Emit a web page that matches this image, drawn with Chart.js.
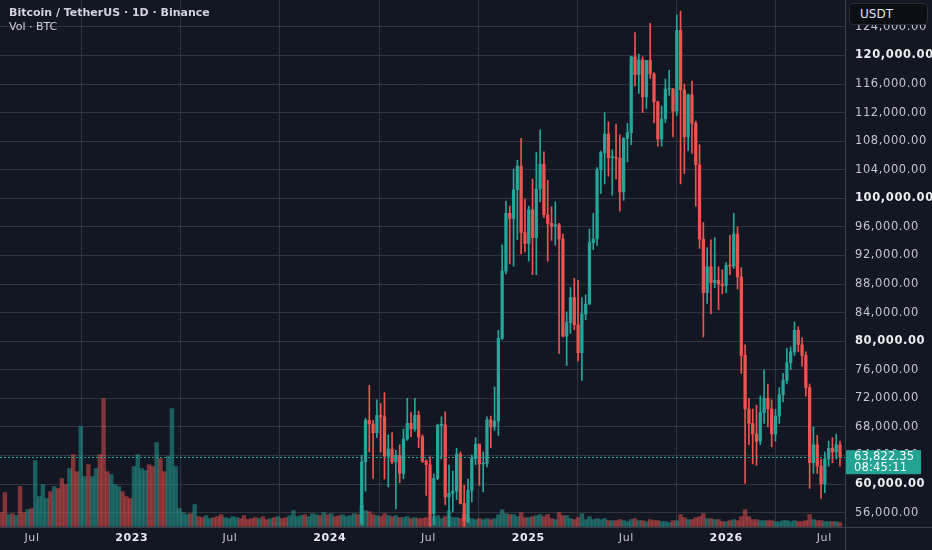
<!DOCTYPE html>
<html><head><meta charset="utf-8">
<script src="https://cdn.jsdelivr.net/npm/chart.js@4.4.1/dist/chart.umd.min.js"></script>
<style>
html,body{margin:0;padding:0;background:#131722;}
#wrap{position:relative;width:932px;height:550px;overflow:hidden;background:#131722;}
#c{position:absolute;left:0;top:0;}
#title{position:absolute;left:9px;top:6px;font:bold 11px 'DejaVu Sans';color:#d1d4dc;white-space:nowrap;}
#sub{position:absolute;left:9px;top:20px;font:11px 'DejaVu Sans';color:#d1d4dc;white-space:nowrap;}
#unit{position:absolute;left:849px;top:3px;width:77px;height:20px;border:1px solid #2a2e39;border-radius:4px;background:#0c0e14;color:#e0e3eb;font:12px 'DejaVu Sans';line-height:20px;}
#unit span{margin-left:10px;}
</style></head>
<body><div id="wrap"><canvas id="c" width="932" height="550"></canvas>
<div id="title">Bitcoin / TetherUS · 1D · Binance</div>
<div id="sub">Vol · BTC</div>
<div id="unit"><span>USDT</span></div>
</div>
<script>
// ---- data (weekly samples) ----
const axisOrigin = '2022-07-01';
const firstWeek = '2022-05-02';      // Monday of first volume week
const candleStartWeek = 95;          // week index of first price candle (2024-02-26)

const timeTicks = ['2022-07-01','2023-01-01','2023-07-01','2024-01-01','2024-07-01','2025-01-01','2025-07-01','2026-01-01','2026-07-01'];
const timeLabels = ['Jul','2023','Jul','2024','Jul','2025','Jul','2026','Jul'];
const priceTicks = [56000,60000,64000,68000,72000,76000,80000,84000,88000,92000,96000,100000,104000,108000,112000,116000,120000,124000];

// volume, thousand BTC per day (weekly samples)
const volumeK = [
42,102,36,39,33,120,42,51,54,198,90,126,84,105,120,114,144,126,174,216,165,300,150,186,150,174,216,384,165,156,126,120,105,90,84,180,216,174,168,186,180,252,204,165,210,354,180,54,42,36,39,66,
30,27,33,24,27,30,36,27,24,30,27,24,33,21,24,27,24,30,21,24,27,30,24,27,33,
48,
30,33,36,30,39,36,33,42,36,39,30,33,36,30,33,39,36,
63,
48,45,36,33,30,39,33,30,33,27,27,30,24,27,24,24,27,
42,30,33,24,30,48,27,27,24,36,27,24,21,24,21,24,21,24,
36,51,39,36,36,30,42,27,27,30,33,36,30,36,24,21,42,33,33,24,
21,27,39,21,30,21,24,21,24,18,18,18,21,18,15,21,24,18,18,15,
21,18,18,15,15,12,18,18,36,27,21,21,27,30,39,24,24,21,21,15,
15,18,21,18,30,51,30,21,21,18,18,18,18,15,15,18,18,15,18,15,
15,18,36,21,18,18,15,15,15,15,12];

// direction of volume weeks before price candles start (1 = up, 0 = down)
const volumeUpPre = [
0,0,1,0,1, 0,0,1,0, 1,1,1,1, 0,1,0,0,0, 1,0,0,1, 1,0,1,1,0, 0,0,1,1, 1,0,0,0,
1,1,1,1,0, 0,1,0,0, 1,1,1,1, 1,1,0,1, 0,0,1,1,0, 0,0,1,1, 1,1,0,0,0, 0,0,1,0, 0,1,0,1, 0,0,1,1,1, 1,0,1,1, 1,0,1,0,
1,0,0,1,1,1,1,0];

const opens = [54500,63100,68900,68400,67200,69600,69400,63900,64900,63100,64000,61500,66300,68500,67700,69600,66600,63200,62700,55900,60800,68200,68300,58200,58700,59000,64200,57300,54800,59100,63600,65600,62800,62900,69000,68000,68800,80400,89800,97900,97200,101200,104500,95200,93700,98400,94500,101300,104800,97700,96500,96100,96300,94300,80700,82600,86100,82300,78400,83800,85200,93800,94300,104000,106400,109000,105700,105700,105600,100900,108400,109200,119800,117300,119400,114200,119300,117400,113500,108300,111100,115300,115300,112200,123500,115200,108600,114500,110500,104700,94300,86800,90400,88200,88500,88000,87800,90600,90500,95000,89000,78000,70500,68500,67000,66000,70000,72000,70500,67000,69500,72500,74500,77000,78500,81500,79500,78000,73500,63000,65500,62500,60000,63500,65000,64500,65500];
const highs = [64000,69200,73800,68900,71800,71300,72800,66900,67200,64700,65500,67700,72000,70000,72000,70200,66900,63400,63800,61400,68400,69400,70100,62700,61800,65000,64500,59800,60700,64100,66500,65600,64500,69400,69500,73600,81500,93500,99600,98900,104100,105300,108400,99900,98900,102700,106400,109600,106500,102500,98800,99500,96500,95000,84100,87500,88800,88500,86100,86500,95700,97900,104300,106600,112000,110700,106800,110400,108900,108500,110500,119900,123200,120200,119800,119300,124500,117600,113600,112900,116700,117900,115400,125700,126200,116000,114600,116400,110800,107500,96600,93100,94200,94500,90400,90000,91000,94800,97900,96000,90300,79500,72000,70500,71000,72300,76000,74000,71800,70500,73500,75500,79000,79200,82700,82000,80500,78500,74000,68000,66800,63500,64500,66000,66500,67000,66000];
const lows = [54200,59000,64500,60800,66500,64500,60700,59600,62800,56500,60200,60700,66100,66600,67400,65100,63000,58400,53500,54300,60600,63500,57100,49000,56100,57800,57200,52500,54600,57500,62700,59800,58900,62400,65100,67500,66800,80200,89400,90800,90500,94200,92200,92500,91200,89300,89300,99500,97300,91200,94100,93400,78300,80600,76600,81100,81600,77200,74500,83000,85100,92800,93400,100700,102000,103100,100400,102700,98200,99700,105100,107500,115700,114700,112000,112600,116800,110600,107300,107300,110600,114400,108600,111600,102000,103500,106700,106300,98900,93000,80600,85300,83800,87500,84400,86600,86800,89300,90200,87300,75500,60100,65500,62800,62600,65500,68500,68000,65200,66000,68500,71500,74000,76000,78000,78500,76500,72300,59400,61500,61500,58000,58800,62500,63000,63500,62500];
const closes = [63100,68900,68400,67200,69600,69400,63900,64900,63100,64000,61500,66300,68500,67700,69600,66600,63200,62700,55900,60800,68200,68300,58200,58700,59000,64200,57300,54800,59100,63600,65600,62800,62900,69000,68000,68800,80400,89800,97900,97200,101200,104500,95200,93700,98400,94500,101300,104800,97700,96500,96100,96300,94300,80700,82600,86100,82300,78400,83800,85200,93800,94300,104000,106400,109000,105700,105700,105600,100900,108400,109200,119800,117300,119400,114200,119300,117400,113500,108300,111100,115300,115300,112200,123500,115200,108600,114500,110500,104700,94300,86800,90400,88200,88500,88000,87800,90600,90500,95000,89000,78000,70500,68500,67000,66000,70000,72000,70500,67000,69500,72500,74500,77000,78500,81500,79500,78000,73500,63000,65500,62500,60000,63500,65000,64500,65500,63822.35];
const countdown = '08:45:11';

// ---- helpers ----
const DAY = 86400000;
const dayNum = s => (Date.parse(s + 'T00:00:00Z') - Date.parse(axisOrigin + 'T00:00:00Z')) / DAY;
const week0 = dayNum(firstWeek);
const weekCenter = i => week0 + 7 * i + 3;

const UP = '#26a69a', DOWN = '#ef5350';
const UP_V = 'rgba(38,166,154,0.5)', DOWN_V = 'rgba(239,83,80,0.5)';
const GRID = '#30343f';
const fmtPrice = v => v.toLocaleString('en-US', {minimumFractionDigits: 2, maximumFractionDigits: 2});

const candleUp = closes.map((c, k) => c >= opens[k]);
const volUp = volumeK.map((v, i) => i < candleStartWeek ? volumeUpPre[i] === 1 : candleUp[i - candleStartWeek]);
const lastPrice = closes[closes.length - 1];

const overlay = {
  id: 'overlay',
  beforeDraw(chart) {
    chart.ctx.letterSpacing = '0.6px';
  },
  afterDatasetsDraw(chart) {
    const {ctx, chartArea, scales} = chart;
    const y = Math.round(scales.y.getPixelForValue(lastPrice)) + 0.5;
    ctx.save();
    ctx.strokeStyle = UP;
    ctx.lineWidth = 1;
    ctx.setLineDash([2, 2]);
    ctx.beginPath();
    ctx.moveTo(chartArea.left, y);
    ctx.lineTo(chartArea.right, y);
    ctx.stroke();
    ctx.restore();
  },
  afterDraw(chart) {
    const {ctx, chartArea, scales, width, height} = chart;
    ctx.save();
    ctx.strokeStyle = '#3a3e4a';
    ctx.lineWidth = 1;
    ctx.beginPath();
    ctx.moveTo(Math.round(chartArea.right) + 0.5, 0);
    ctx.lineTo(Math.round(chartArea.right) + 0.5, height);
    ctx.moveTo(0, Math.round(chartArea.bottom) + 0.5);
    ctx.lineTo(width, Math.round(chartArea.bottom) + 0.5);
    ctx.stroke();
    const y = scales.y.getPixelForValue(lastPrice);
    ctx.fillStyle = '#22a393';
    ctx.fillRect(chartArea.right + 1, y - 6.5, 75, 24);
    ctx.fillStyle = '#ffffff';
    ctx.letterSpacing = '0.2px';
    ctx.font = '11.5px "DejaVu Sans"';
    ctx.textBaseline = 'middle';
    ctx.textAlign = 'left';
    ctx.fillText(fmtPrice(lastPrice), chartArea.right + 9, y);
    ctx.fillText(countdown, chartArea.right + 9, y + 11.3);
    ctx.restore();
  }
};

new Chart(document.getElementById('c'), {
  type: 'bar',
  data: {
    datasets: [
      {
        label: 'Vol', yAxisID: 'yv', order: 3, grouped: false, barThickness: 3.8,
        data: volumeK.map((v, i) => ({x: weekCenter(i), y: v})),
        backgroundColor: volUp.map(u => u ? UP_V : DOWN_V)
      },
      {
        label: 'Wick', yAxisID: 'y', order: 2, grouped: false, barThickness: 1,
        data: highs.map((h, k) => ({x: weekCenter(k + candleStartWeek), y: [lows[k], h]})),
        backgroundColor: candleUp.map(u => u ? UP : DOWN)
      },
      {
        label: 'Body', yAxisID: 'y', order: 1, grouped: false, barThickness: 2.6, minBarLength: 1,
        data: opens.map((o, k) => ({x: weekCenter(k + candleStartWeek), y: [o, closes[k]]})),
        backgroundColor: candleUp.map(u => u ? UP : DOWN)
      }
    ]
  },
  options: {
    responsive: false,
    animation: false,
    layout: {padding: 0},
    plugins: {legend: {display: false}, tooltip: {enabled: false}, title: {display: false}},
    scales: {
      x: {
        type: 'linear', min: -59, max: 1499.2, offset: false,
        grid: {color: GRID, drawTicks: false},
        border: {display: false},
        afterBuildTicks: s => { s.ticks = timeTicks.map(d => ({value: dayNum(d)})); },
        afterFit: s => { s.height = 23.3; s.paddingLeft = 0; s.paddingRight = 0; },
        ticks: {
          autoSkip: false, maxRotation: 0, padding: 5,
          color: ctx => /^\d{4}$/.test(timeLabels[ctx.index]) ? '#e9ebf0' : '#c3c6ce',
          font: ctx => ({family: 'DejaVu Sans', size: 11, weight: /^\d{4}$/.test(timeLabels[ctx.index]) ? 'bold' : 'normal'}),
          callback: (v, i) => timeLabels[i]
        }
      },
      y: {
        type: 'linear', position: 'right', min: 54024, max: 127762,
        grid: {color: GRID, drawTicks: false},
        border: {display: false},
        afterBuildTicks: s => { s.ticks = priceTicks.map(v => ({value: v})); },
        afterFit: s => { s.width = 87; s.paddingTop = 0; s.paddingBottom = 0; },
        ticks: {
          padding: 10,
          color: ctx => ctx.tick && ctx.tick.value % 20000 === 0 ? '#eceef2' : '#c3c6ce',
          font: ctx => ({family: 'DejaVu Sans', size: 11.5, weight: ctx.tick && ctx.tick.value % 20000 === 0 ? 'bold' : 'normal'}),
          callback: v => fmtPrice(v)
        }
      },
      yv: {type: 'linear', display: false, min: 0, max: 1580}
    }
  },
  plugins: [overlay]
});
</script>
</body></html>
